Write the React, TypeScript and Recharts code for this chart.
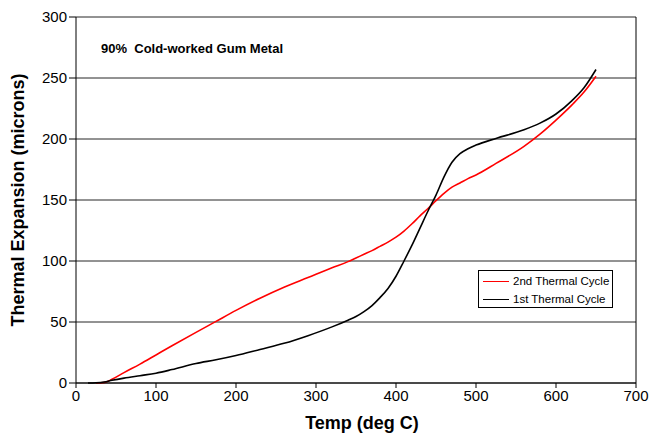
import { CartesianGrid, Label, Line, LineChart, ReferenceLine, XAxis, YAxis } from "recharts";

const temps = [
  15, 25, 35, 45, 60, 80, 100, 120, 150, 175, 200, 230, 260, 290, 320, 340, 350, 360, 370, 380,
  390, 400, 410, 420, 430, 440, 450, 460, 470, 480, 490, 500, 525, 560, 580, 600, 620, 635, 650
];

const secondCycle = [
  null, 0, 0.3, 3, 8.5, 15.5, 23, 30.5, 41.5, 50.5, 59.5, 69.5, 78.5, 86.5, 94.5, 99.5, 102.5, 105.5, 108.5, 112,
  115.5, 119.5, 124.5, 130.5, 137, 143, 149.5, 155.5, 160.5, 164, 167.5, 170.5, 180, 194, 204, 215.5, 228, 238.5, 251.5
];

const firstCycle = [
  0, 0.2, 0.8, 2.2, 4, 6, 8, 11, 16, 19, 22.5, 27.5, 32.5, 38.8, 46, 51.5, 54.5, 58.5, 63.5, 70,
  77.5, 87.5, 100, 113, 127, 141, 154, 169, 181, 188, 192, 195, 200.5, 207.5, 213, 220.5, 231.5, 242, 257
];

const xTicks = [0, 100, 200, 300, 400, 500, 600, 700];
const yTicks = [0, 50, 100, 150, 200, 250, 300];

const legendItems = [
  { name: "2nd Thermal Cycle", color: "#ff0000" },
  { name: "1st Thermal Cycle", color: "#000000" }
];

const data = temps.map((t, i) => ({
  temp: t,
  second: secondCycle[i],
  first: firstCycle[i]
}));

const font = "Arial, 'Liberation Sans', sans-serif";

export default function App() {
  return (
    <div style={{ position: "absolute", left: 0, top: 0, width: 651, height: 433, background: "#fff", fontFamily: font }}>
      <LineChart width={651} height={433} data={data} margin={{ top: 17, right: 15, bottom: 20, left: 0 }}>
        <CartesianGrid vertical={false} stroke="#000" strokeOpacity={0.85} />
        <XAxis
          dataKey="temp"
          type="number"
          domain={[0, 700]}
          ticks={xTicks}
          height={30}
          tickSize={5}
          stroke="#000"
          tick={{ fill: "#000", fontSize: 15, fontFamily: font }}
        >
          <Label
            value="Temp (deg C)"
            position="insideBottom"
            offset={-16}
            dx={6}
            style={{ fill: "#000", fontSize: 18, fontWeight: "bold", fontFamily: font }}
          />
        </XAxis>
        <YAxis
          type="number"
          domain={[0, 300]}
          ticks={yTicks}
          width={76}
          tickSize={7}
          stroke="#000"
          tick={{ fill: "#000", fontSize: 15, fontFamily: font }}
        >
          <Label
            value="Thermal Expansion (microns)"
            angle={-90}
            position="insideLeft"
            offset={18}
            style={{ textAnchor: "middle", fill: "#000", fontSize: 18, fontWeight: "bold", fontFamily: font }}
          />
        </YAxis>
        <ReferenceLine x={700} stroke="#000" />
        <Line
          type="monotone"
          dataKey="second"
          name="2nd Thermal Cycle"
          stroke="#ff0000"
          strokeWidth={1.6}
          dot={false}
          connectNulls
          isAnimationActive={false}
        />
        <Line
          type="monotone"
          dataKey="first"
          name="1st Thermal Cycle"
          stroke="#000000"
          strokeWidth={1.6}
          dot={false}
          isAnimationActive={false}
        />
      </LineChart>
      <div style={{ position: "absolute", left: 101, top: 41, fontSize: 13, fontWeight: "bold", whiteSpace: "pre" }}>
        {"90%  Cold-worked Gum Metal"}
      </div>
      <div
        style={{
          position: "absolute",
          left: 478,
          top: 270,
          width: 133,
          height: 36,
          border: "1px solid #000",
          background: "#fff",
          fontSize: 11.5
        }}
      >
        {legendItems.map((item, i) => (
          <div key={item.name} style={{ position: "absolute", left: 4, top: 3 + i * 18, height: 14, display: "flex", alignItems: "center" }}>
            <span style={{ display: "inline-block", width: 26, height: 0, borderTop: `1.5px solid ${item.color}`, marginRight: 4 }} />
            <span>{item.name}</span>
          </div>
        ))}
      </div>
    </div>
  );
}
